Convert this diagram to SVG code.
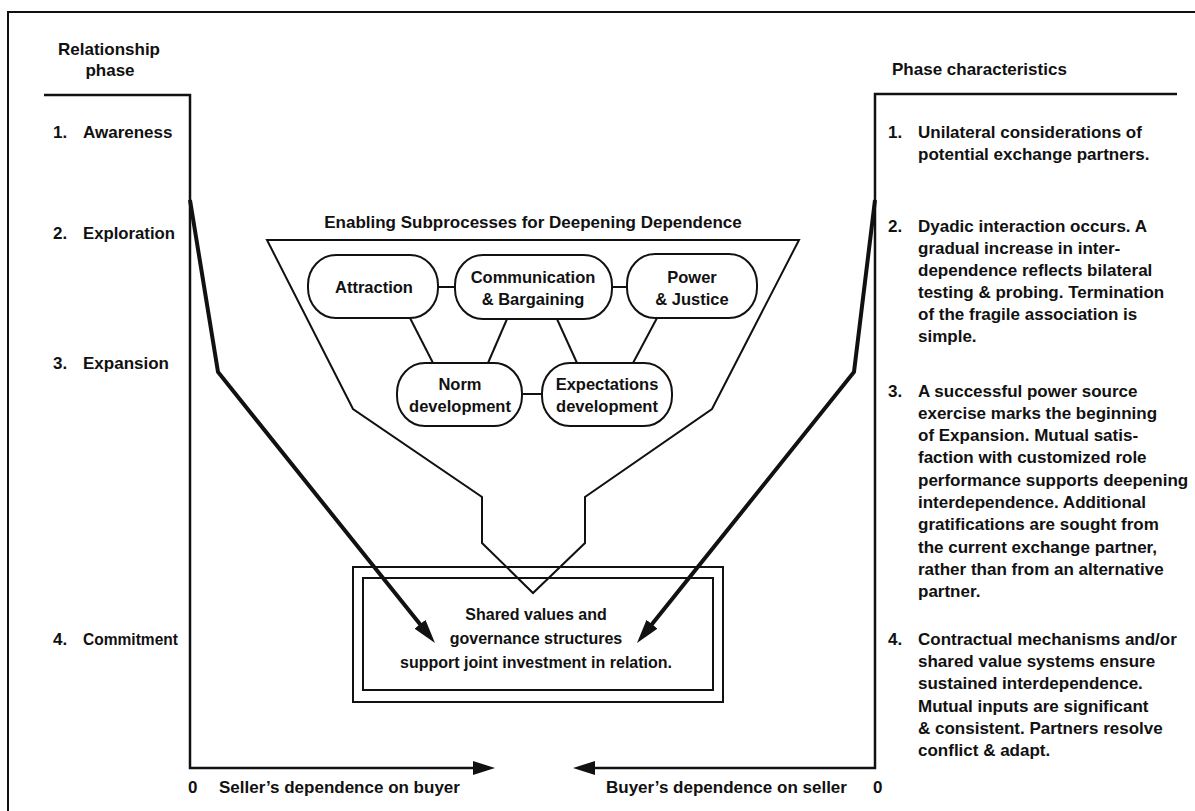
<svg xmlns="http://www.w3.org/2000/svg" width="1195" height="811" viewBox="0 0 1195 811">
<style>
  text { font-family: "Liberation Sans", Arial, sans-serif; font-weight: bold; fill: #111; }
  .t17 { font-size: 17px; }
  .t16 { font-size: 16px; }
  .pt { font-size: 16.5px; text-anchor: middle; }
  .mid { text-anchor: middle; }
  .ln { fill: none; stroke: #111; stroke-width: 2; stroke-linejoin: miter; }
  .axis { fill: none; stroke: #111; stroke-width: 2.5; }
  .pill { fill: #fff; stroke: #111; stroke-width: 2; }
  .link { fill: none; stroke: #111; stroke-width: 2; }
  .thick { fill: none; stroke: #111; stroke-width: 4; stroke-linejoin: miter; }
</style>
<defs>
  <marker id="bigArrow" viewBox="0 0 24 14" refX="12" refY="7" markerWidth="24" markerHeight="14" markerUnits="userSpaceOnUse" orient="auto">
    <path d="M0,0 L24,7 L0,14 Z" fill="#111"/>
  </marker>
  <marker id="axisArrow" viewBox="0 0 22 14" refX="11" refY="7" markerWidth="22" markerHeight="14" markerUnits="userSpaceOnUse" orient="auto">
    <path d="M0,0 L22,7 L0,14 Z" fill="#111"/>
  </marker>
</defs>
<rect x="0" y="0" width="1195" height="811" fill="#fff"/>

<g id="frame">
  <path class="ln" d="M8,811 V12 H1195"/>
</g>

<g id="left-column">
  <text class="t17 mid" x="109" y="55">Relationship</text>
  <text class="t17 mid" x="110" y="76">phase</text>
  <text class="t17" x="53" y="138">1.</text><text class="t17" x="83" y="138">Awareness</text>
  <text class="t17" x="53" y="239">2.</text><text class="t17" x="83" y="239" textLength="92" lengthAdjust="spacingAndGlyphs">Exploration</text>
  <text class="t17" x="53" y="369">3.</text><text class="t17" x="83" y="369">Expansion</text>
  <text class="t17" x="53" y="645">4.</text><text class="t17" x="83" y="645" textLength="95" lengthAdjust="spacingAndGlyphs">Commitment</text>
</g>

<g id="right-column">
  <text class="t17" x="892" y="75">Phase characteristics</text>
  <text class="t17" x="888" y="138">1.</text>
  <text class="t17">
    <tspan x="918" y="138">Unilateral considerations of</tspan>
    <tspan x="918" y="160">potential exchange partners.</tspan>
  </text>
  <text class="t17" x="888" y="232">2.</text>
  <text class="t17">
    <tspan x="918" y="232">Dyadic interaction occurs. A</tspan>
    <tspan x="918" y="254">gradual increase in inter-</tspan>
    <tspan x="918" y="276">dependence  reflects bilateral</tspan>
    <tspan x="918" y="298">testing &amp; probing. Termination</tspan>
    <tspan x="918" y="320">of the fragile association is</tspan>
    <tspan x="918" y="342">simple.</tspan>
  </text>
  <text class="t17" x="888" y="397">3.</text>
  <text class="t17">
    <tspan x="918" y="397">A successful power source</tspan>
    <tspan x="918" y="419">exercise marks the beginning</tspan>
    <tspan x="918" y="441">of Expansion. Mutual satis-</tspan>
    <tspan x="918" y="463">faction with customized role</tspan>
    <tspan x="918" y="486">performance supports deepening</tspan>
    <tspan x="918" y="508">interdependence. Additional</tspan>
    <tspan x="918" y="530">gratifications are sought from</tspan>
    <tspan x="918" y="553">the current exchange partner,</tspan>
    <tspan x="918" y="575">rather than from an alternative</tspan>
    <tspan x="918" y="597">partner.</tspan>
  </text>
  <text class="t17" x="888" y="645">4.</text>
  <text class="t17">
    <tspan x="918" y="645">Contractual mechanisms and/or</tspan>
    <tspan x="918" y="667">shared value systems ensure</tspan>
    <tspan x="918" y="689">sustained interdependence.</tspan>
    <tspan x="918" y="712">Mutual inputs are significant</tspan>
    <tspan x="918" y="734">&amp; consistent. Partners resolve</tspan>
    <tspan x="918" y="756">conflict &amp; adapt.</tspan>
  </text>
</g>

<g id="axes">
  <path class="axis" d="M44,95 H190 V768 H484" marker-end="url(#axisArrow)"/>
  <path class="axis" d="M1177,94 H875 V768 H584" marker-end="url(#axisArrow)"/>
  <text class="t17" x="188" y="793">0</text>
  <text class="t17" x="219" y="793">Seller’s dependence on buyer</text>
  <text class="t17" x="606" y="793">Buyer’s dependence on seller</text>
  <text class="t17" x="873" y="793">0</text>
</g>

<g id="funnel">
  <text class="t17 mid" x="533" y="228">Enabling Subprocesses for Deepening Dependence</text>
  <path class="ln" d="M267,240 H799 L712,409 L585,497 V543 L533,593 L482,543 V497 L353,409 Z"/>
</g>

<g id="commitment-box">
  <rect class="ln" x="353" y="567" width="370" height="135" fill="none"/>
  <rect class="ln" x="363" y="578" width="350" height="112" fill="none"/>
  <text class="t16 mid" x="536" y="620">Shared values and</text>
  <text class="t16 mid" x="536" y="644">governance structures</text>
  <text class="t16 mid" x="536" y="668">support joint investment in relation.</text>
</g>

<g id="connectors">
  <line class="link" x1="438" y1="287" x2="455" y2="287"/>
  <line class="link" x1="612" y1="287" x2="627" y2="287"/>
  <line class="link" x1="522" y1="394" x2="542" y2="394"/>
  <line class="link" x1="410" y1="318" x2="433" y2="363"/>
  <line class="link" x1="507" y1="319" x2="488" y2="363"/>
  <line class="link" x1="557" y1="319" x2="577" y2="363"/>
  <line class="link" x1="657" y1="318" x2="633" y2="363"/>
  <path class="thick" d="M190,200 L218,372 L427.5,633.6" marker-end="url(#bigArrow)"/>
  <path class="thick" d="M875,200 L854,372 L644.5,633.6" marker-end="url(#bigArrow)"/>
</g>

<g id="node-attraction">
  <rect class="pill" x="308" y="255" width="130" height="63" rx="28" ry="30"/>
  <text class="pt" x="374" y="293">Attraction</text>
</g>
<g id="node-communication">
  <rect class="pill" x="455" y="255" width="157" height="64" rx="28" ry="30"/>
  <text class="pt" x="533" y="283">Communication</text>
  <text class="pt" x="533" y="305">&amp; Bargaining</text>
</g>
<g id="node-power">
  <rect class="pill" x="627" y="254" width="130" height="64" rx="28" ry="30"/>
  <text class="pt" x="692" y="283">Power</text>
  <text class="pt" x="692" y="305">&amp; Justice</text>
</g>
<g id="node-norm">
  <rect class="pill" x="397" y="363" width="125" height="63" rx="28" ry="30"/>
  <text class="pt" x="460" y="390">Norm</text>
  <text class="pt" x="460" y="412">development</text>
</g>
<g id="node-expectations">
  <rect class="pill" x="542" y="363" width="130" height="63" rx="28" ry="30"/>
  <text class="pt" x="607" y="390">Expectations</text>
  <text class="pt" x="607" y="412">development</text>
</g>
</svg>
